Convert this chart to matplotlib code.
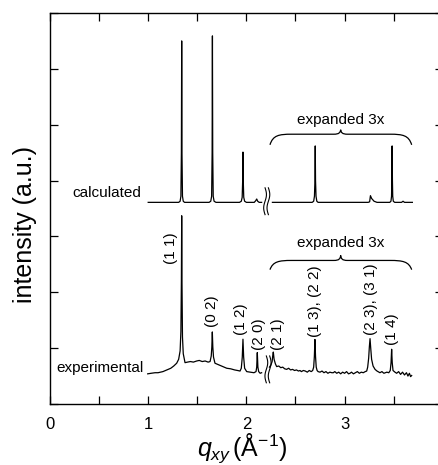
import numpy as np
import matplotlib
matplotlib.use("Agg")
import matplotlib.pyplot as plt
from matplotlib.path import Path
from matplotlib.patches import PathPatch

plt.rcParams['font.family'] = ['Liberation Sans', 'DejaVu Sans']
plt.rcParams['mathtext.fontset'] = 'custom'
plt.rcParams['mathtext.rm'] = 'Liberation Sans'
plt.rcParams['mathtext.it'] = 'Liberation Sans:italic'

# ---------------- data ----------------
# calculated pattern, left of the axis break
calc_x1 = [1.00, 1.31, 1.325, 1.333, 1.338, 1.341, 1.344, 1.349, 1.357, 1.37,
           1.62, 1.637, 1.646, 1.651, 1.654, 1.657, 1.662, 1.671, 1.69,
           1.93, 1.948, 1.957, 1.962, 1.965, 1.968, 1.973, 1.982, 2.00,
           2.08, 2.095, 2.105, 2.115, 2.13, 2.155]
calc_y1 = [3.61, 3.61, 3.63, 3.72, 4.50, 6.50, 4.50, 3.72, 3.63, 3.61,
           3.61, 3.63, 3.72, 4.50, 6.59, 4.50, 3.72, 3.63, 3.61,
           3.61, 3.63, 3.70, 4.00, 4.51, 4.00, 3.70, 3.63, 3.61,
           3.61, 3.64, 3.67, 3.63, 3.61, 3.61]
# calculated pattern, right of the break (expanded 3x)
calc_x2 = [2.265, 2.67, 2.685, 2.693, 2.698, 2.701, 2.704, 2.709, 2.717, 2.73,
           3.24, 3.255, 3.263, 3.275, 3.30, 3.33,
           3.46, 3.472, 3.478, 3.481, 3.484, 3.487, 3.490, 3.496, 3.51,
           3.58, 3.595, 3.61, 3.69]
calc_y2 = [3.61, 3.61, 3.63, 3.72, 4.00, 4.62, 4.00, 3.72, 3.63, 3.61,
           3.61, 3.62, 3.73, 3.68, 3.63, 3.61,
           3.61, 3.63, 3.72, 4.00, 4.62, 4.00, 3.72, 3.63, 3.61,
           3.61, 3.63, 3.61, 3.61]

# experimental pattern, left of the break
exp_x1 = [0.995, 1.03, 1.07, 1.10, 1.15, 1.19, 1.23, 1.26, 1.29, 1.31, 1.325,
          1.333, 1.338, 1.341, 1.344, 1.349, 1.357, 1.375, 1.40, 1.43, 1.46,
          1.494, 1.52, 1.55, 1.58, 1.61, 1.63, 1.642, 1.648, 1.653, 1.658,
          1.665, 1.68, 1.72, 1.76, 1.80, 1.84, 1.88, 1.91, 1.935, 1.948,
          1.958, 1.965, 1.972, 1.982, 2.003, 2.04, 2.077, 2.098, 2.105,
          2.111, 2.117, 2.125, 2.14, 2.155]
exp_y1 = [0.54, 0.55, 0.56, 0.56, 0.58, 0.61, 0.64, 0.68, 0.73, 0.80, 0.95,
          1.30, 2.20, 3.37, 2.20, 1.20, 0.90, 0.74, 0.75, 0.76, 0.75,
          0.77, 0.78, 0.76, 0.77, 0.75, 0.76, 0.86, 1.02, 1.29, 1.02,
          0.84, 0.73, 0.70, 0.67, 0.64, 0.63, 0.61, 0.60, 0.59, 0.64,
          0.84, 1.16, 0.84, 0.64, 0.58, 0.57, 0.56, 0.58, 0.66,
          0.92, 0.66, 0.58, 0.55, 0.56]
# experimental pattern, right of the break (expanded 3x)
exp_x2 = [2.235, 2.25, 2.262, 2.268, 2.274, 2.282, 2.295, 2.308, 2.33, 2.35,
          2.37, 2.39, 2.41, 2.43, 2.45, 2.47, 2.49, 2.51, 2.53, 2.546, 2.56,
          2.58, 2.60, 2.62, 2.64, 2.66, 2.675, 2.685, 2.692, 2.698, 2.704,
          2.711, 2.72, 2.73, 2.75, 2.77, 2.79, 2.81, 2.83, 2.85, 2.87, 2.885,
          2.90, 2.92, 2.94, 2.96, 2.98, 3.00, 3.02, 3.04, 3.055, 3.07, 3.09,
          3.11, 3.13, 3.15, 3.17, 3.19, 3.21, 3.225, 3.235, 3.245, 3.252,
          3.259, 3.266, 3.275, 3.29, 3.31, 3.33, 3.36, 3.38, 3.40, 3.43, 3.45,
          3.465, 3.473, 3.479, 3.485, 3.493, 3.513, 3.53, 3.55, 3.57, 3.59,
          3.61, 3.63, 3.645, 3.66, 3.672, 3.683]
exp_y2 = [0.66, 0.70, 0.76, 0.86, 0.93, 0.80, 0.72, 0.67, 0.68, 0.65,
          0.66, 0.63, 0.62, 0.64, 0.61, 0.62, 0.60, 0.61, 0.59, 0.60, 0.58,
          0.60, 0.59, 0.57, 0.60, 0.58, 0.60, 0.66, 0.85, 1.155, 0.85,
          0.66, 0.60, 0.58, 0.57, 0.59, 0.56, 0.58, 0.55, 0.57, 0.56, 0.56,
          0.58, 0.55, 0.57, 0.54, 0.57, 0.55, 0.58, 0.54, 0.55, 0.57, 0.54,
          0.56, 0.58, 0.55, 0.57, 0.56, 0.58, 0.59, 0.66, 0.82, 1.02,
          1.17, 1.00, 0.80, 0.68, 0.62, 0.59, 0.56, 0.58, 0.55, 0.57, 0.56,
          0.60, 0.74, 0.98, 0.74, 0.60, 0.57, 0.55, 0.58, 0.53, 0.57,
          0.52, 0.56, 0.50, 0.55, 0.49, 0.51]

# peak indices (Miller indices) and where their labels sit
peak_labels = ['(1 1)', '(0 2)', '(1 2)', '(2 0)', '(2 1)',
               '(1 3), (2 2)', '(2 3), (3 1)', '(1 4)']
label_x = [1.229, 1.65, 1.95, 2.128, 2.318, 2.70, 3.265, 3.48]
label_y = [2.51, 1.38, 1.23, 0.97, 0.97, 1.20, 1.23, 1.05]

xticks = [0, 1, 2, 3, 4]

# ---------------- figure ----------------
fig = plt.figure(figsize=(4.39, 4.65), dpi=100)
ax = fig.add_axes([50 / 439, 61 / 465, 392.8 / 439, 391 / 465])
ax.set_xlim(0, 4)
ax.set_ylim(0, 7)

lw = 0.9
ax.plot(calc_x1, calc_y1, color='black', lw=lw)
ax.plot(calc_x2, calc_y2, color='black', lw=lw)
ax.plot(exp_x1, exp_y1, color='black', lw=lw)
ax.plot(exp_x2, exp_y2, color='black', lw=lw)

fs = 11
ax.text(0.927, 3.77, 'calculated', ha='right', va='center', fontsize=fs)
ax.text(0.957, 0.65, 'experimental', ha='right', va='center', fontsize=fs)

for t, x, y in zip(peak_labels, label_x, label_y):
    ax.text(x, y, t, rotation=90, ha='center', va='bottom', fontsize=fs)


def brace(x0, x1, xm, y_end, y_flat, y_tip):
    w = 0.22
    w2 = 0.07
    verts = [(x0, y_end),
             (x0 + 0.03, y_flat - 0.02), (x0 + 0.09, y_flat), (x0 + w, y_flat),
             (xm - w2, y_flat),
             (xm - 0.015, y_flat), (xm - 0.004, y_flat + 0.03), (xm, y_tip),
             (xm + 0.004, y_flat + 0.03), (xm + 0.015, y_flat), (xm + w2, y_flat),
             (x1 - w, y_flat),
             (x1 - 0.09, y_flat), (x1 - 0.03, y_flat - 0.02), (x1, y_end)]
    codes = [Path.MOVETO,
             Path.CURVE4, Path.CURVE4, Path.CURVE4,
             Path.LINETO,
             Path.CURVE4, Path.CURVE4, Path.CURVE4,
             Path.CURVE4, Path.CURVE4, Path.CURVE4,
             Path.LINETO,
             Path.CURVE4, Path.CURVE4, Path.CURVE4]
    ax.add_patch(PathPatch(Path(verts, codes), fill=False, lw=lw, color='black'))


brace(2.24, 3.683, 2.96, 4.64, 4.83, 4.91)
brace(2.24, 3.683, 2.96, 2.405, 2.57, 2.66)
ax.text(2.96, 5.09, 'expanded 3x', ha='center', va='center', fontsize=fs)
ax.text(2.96, 2.875, 'expanded 3x', ha='center', va='center', fontsize=fs)


def squiggle(xc, yc):
    t = np.linspace(-1, 1, 60)
    for dx in (-0.017, 0.017):
        xs = xc + dx - 0.014 * np.sin(np.pi * t)
        ys = yc - 0.24 * t
        ax.plot(xs, ys, color='black', lw=0.8)


squiggle(2.207, 3.63)
squiggle(2.22, 0.62)

ax.set_xticks(xticks)
ax.set_xticks(np.arange(0.5, 4, 1.0), minor=True)
ax.set_yticks(range(0, 8))
ax.set_yticklabels([])
ax.tick_params(which='both', direction='in', top=True, right=True, width=0.9)
ax.tick_params(which='major', length=6, labelsize=12, pad=9)
ax.tick_params(which='minor', length=6)
for s in ax.spines.values():
    s.set_linewidth(1.0)

ax.set_ylabel('intensity (a.u.)', fontsize=18)
ax.yaxis.set_label_coords(-0.034, 0.458)
ax.set_xlabel(r'$q_{xy}\,$(Å$^{-1}$)', fontsize=18)
ax.xaxis.set_label_coords(0.489, -0.071)

fig.savefig('out.png', dpi=100)
